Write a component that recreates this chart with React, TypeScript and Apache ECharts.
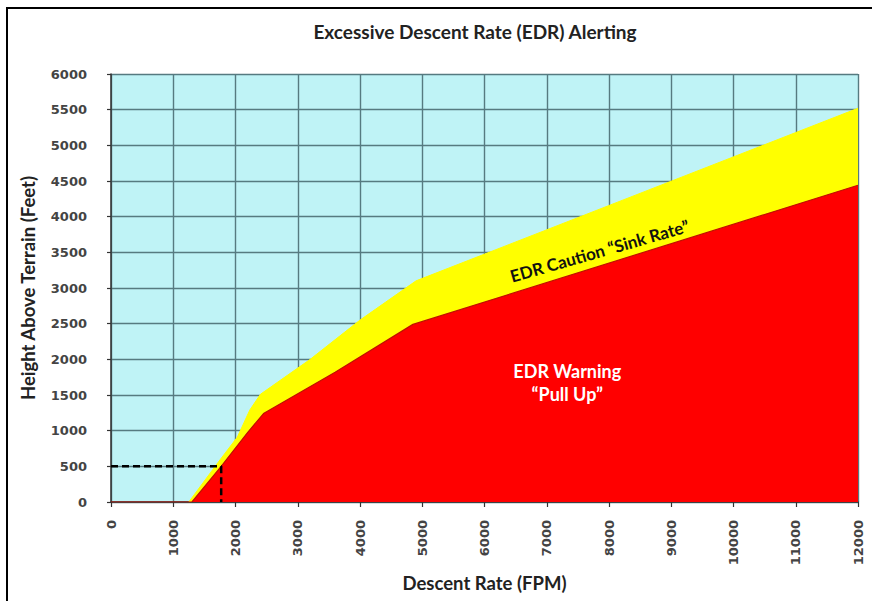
import React, { useEffect, useRef } from "react";
import * as echarts from "echarts";

// ---- Data ----
const xTicks = [0, 1000, 2000, 3000, 4000, 5000, 6000, 7000, 8000, 9000, 10000, 11000, 12000];
const yTicks = [0, 500, 1000, 1500, 2000, 2500, 3000, 3500, 4000, 4500, 5000, 5500, 6000];

// EDR Caution "Sink Rate" upper boundary (descent rate fpm, height ft)
const cautionX = [1250, 1750, 2030, 2230, 2400, 3200, 4000, 4900, 12000];
const cautionY = [0, 590, 910, 1290, 1510, 2000, 2550, 3100, 5520];

// EDR Warning "Pull Up" upper boundary
const warningX = [0, 1300, 1770, 2200, 2450, 3600, 4850, 12000];
const warningY = [0, 0, 500, 980, 1240, 1820, 2490, 4440];

// Dashed reference: 500 ft at 1770 fpm
const refX = [0, 1770, 1770];
const refY = [500, 500, 0];

const title = "Excessive Descent Rate (EDR) Alerting";
const xName = "Descent Rate (FPM)";
const yName = "Height Above Terrain (Feet)";
const cautionLabel = "EDR Caution \u201cSink Rate\u201d";
const warningLabel1 = "EDR Warning";
const warningLabel2 = "\u201cPull Up\u201d";

const zip = (xs: number[], ys: number[]) => xs.map((x, i) => [x, ys[i]]);

const FONT = "Lato, 'Open Sans', sans-serif";
const TICKFONT = "'DejaVu Sans', sans-serif";

export default function App() {
  const ref = useRef<HTMLDivElement>(null);
  useEffect(() => {
    if (!ref.current) return;
    const chart = echarts.init(ref.current, undefined, { renderer: "svg" });
    const option: any = {
      animation: false,
      backgroundColor: "#ffffff",
      title: {
        text: title,
        left: 470,
        textAlign: "center",
        top: 17,
        textStyle: { fontFamily: FONT, fontWeight: "bold", fontSize: 19, color: "#222" },
      },
      grid: {
        left: 111,
        right: 14,
        top: 74,
        bottom: 99,
        show: true,
        backgroundColor: "#bff3f6",
        borderWidth: 0,
      },
      xAxis: {
        type: "value",
        min: 0,
        max: 12000,
        interval: 1000,
        name: xName,
        nameLocation: "middle",
        nameGap: 67,
        nameTextStyle: { fontFamily: FONT, fontWeight: "bold", fontSize: 18.5, color: "#222" },
        axisLine: { show: true, onZero: false, lineStyle: { color: "#333", width: 1.5 } },
        axisTick: { show: true, length: 5, lineStyle: { color: "#333", width: 1.2 } },
        axisLabel: {
          rotate: 90,
          margin: 18,
          fontFamily: TICKFONT,
          fontWeight: "bold",
          fontSize: 13,
          color: "#444",
          formatter: (v: number) => (xTicks.includes(v) ? String(v) : ""),
        },
        splitLine: { show: true, lineStyle: { color: "#567a80", width: 1.4 } },
      },
      yAxis: {
        type: "value",
        min: 0,
        max: 6000,
        interval: 500,
        name: yName,
        nameLocation: "middle",
        nameGap: 74,
        nameTextStyle: { fontFamily: FONT, fontWeight: "bold", fontSize: 18.5, color: "#222" },
        axisLine: { show: true, lineStyle: { color: "#333", width: 1.5 } },
        axisTick: { show: true, length: 4, lineStyle: { color: "#333", width: 1.2 } },
        axisLabel: {
          margin: 24,
          fontFamily: TICKFONT,
          fontWeight: "bold",
          fontSize: 13,
          color: "#444",
          formatter: (v: number) => (yTicks.includes(v) ? String(v) : ""),
        },
        splitLine: { show: true, lineStyle: { color: "#567a80", width: 1.4 } },
      },
      series: [
        {
          name: "Caution",
          type: "line",
          data: zip(cautionX, cautionY),
          symbol: "none",
          lineStyle: { color: "#ffff00", width: 1 },
          areaStyle: { color: "#ffff00", opacity: 1 },
          z: 2,
        },
        {
          name: "Warning",
          type: "line",
          data: zip(warningX, warningY),
          symbol: "none",
          lineStyle: { color: "#c01000", width: 1.2 },
          areaStyle: { color: "#ff0000", opacity: 1 },
          z: 3,
        },
        {
          name: "Reference",
          type: "line",
          data: zip(refX, refY),
          symbol: "none",
          lineStyle: { color: "#000", width: 2.5, type: [7, 4] },
          z: 5,
        },
      ],
    };
    chart.setOption(option);

    const p1 = chart.convertToPixel({ gridIndex: 0 }, [7850, 3520]) as number[];
    const p2 = chart.convertToPixel({ gridIndex: 0 }, [7330, 1680]) as number[];
    chart.setOption({
      graphic: [
        {
          type: "rect",
          shape: { x: 7, y: 8, width: 900, height: 700 },
          style: { fill: "none", stroke: "#000", lineWidth: 2 },
          silent: true,
          z: 10,
        },
        {
          type: "text",
          x: p1[0],
          y: p1[1],
          rotation: (16 * Math.PI) / 180,
          style: {
            text: cautionLabel,
            fontFamily: FONT,
            fontWeight: "bold",
            fontSize: 17,
            fill: "#111",
            align: "center",
            verticalAlign: "middle",
          },
          z: 10,
        },
        {
          type: "text",
          x: p2[0],
          y: p2[1],
          style: {
            text: warningLabel1 + "\n" + warningLabel2,
            fontFamily: FONT,
            fontWeight: "bold",
            fontSize: 18,
            lineHeight: 23,
            fill: "#ffffff",
            align: "center",
            verticalAlign: "middle",
          },
          z: 10,
        },
      ],
    });
    return () => chart.dispose();
  }, []);
  return (
    <div
      ref={ref}
      style={{ position: "fixed", left: 0, top: 0, width: 872, height: 601 }}
    />
  );
}
